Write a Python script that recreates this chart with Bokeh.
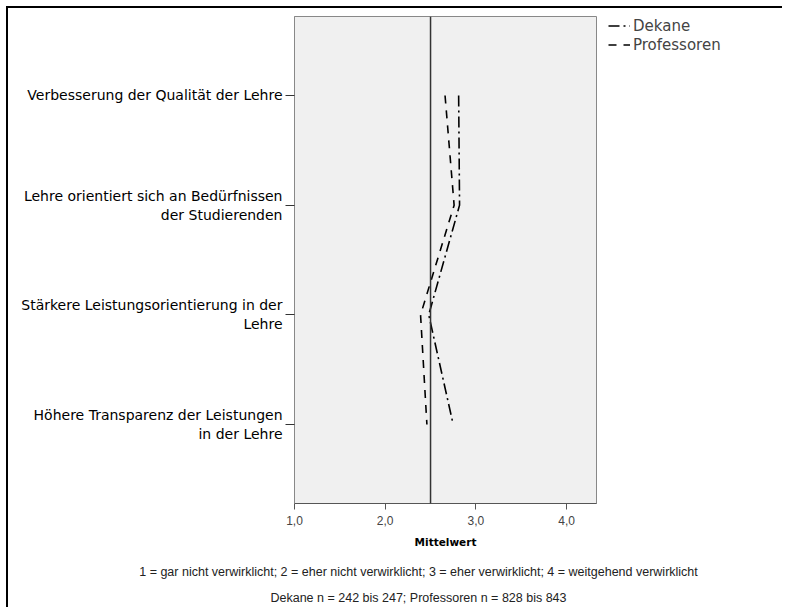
from bokeh.plotting import figure
from bokeh.layouts import column, row
from bokeh.models import (Range1d, FixedTicker, Span, Legend, LegendItem, ColumnDataSource)
from bokeh.core.properties import value
from bokeh.embed import file_html
from bokeh.resources import INLINE

categories = ["Verbesserung der Qualität der Lehre",
              "Lehre orientiert sich an Bedürfnissen\nder Studierenden",
              "Stärkere Leistungsorientierung in der\nLehre",
              "Höhere Transparenz der Leistungen\nin der Lehre"]
dekane = [2.81, 2.82, 2.48, 2.75]
professoren = [2.66, 2.76, 2.39, 2.46]
series_names = ["Dekane", "Professoren"]
x_ticks = [1, 2, 3, 4]
x_tick_labels = ["1,0", "2,0", "3,0", "4,0"]
reference_value = 2.5
footnotes = ["1 = gar nicht verwirklicht; 2 = eher nicht verwirklicht; 3 = eher verwirklicht; 4 = weitgehend verwirklicht",
             "Dekane n = 242 bis 247; Professoren n = 828 bis 843"]

ypos = list(range(1, len(categories) + 1))
FONT = "Liberation Sans"
LFONT = "DejaVu Sans"
DASH_D = "11 4 2 4"
DASH_P = "8 7"

p = figure(width=590, height=547, output_backend="svg", toolbar_location=None,
           x_range=Range1d(1.0, 4.33), y_range=Range1d(4.72, 0.28),
           min_border_left=286, min_border_right=2, min_border_top=6,
           min_border_bottom=52)
p.background_fill_color = "#f0f0f0"
p.border_fill_color = "white"
p.outline_line_color = "#888888"
p.outline_line_width = 1
p.grid.visible = False

p.xaxis.ticker = FixedTicker(ticks=x_ticks)
p.xaxis.major_label_overrides = {t: l for t, l in zip(x_ticks, x_tick_labels)}
p.xaxis.minor_tick_line_color = None
p.xaxis.major_tick_out = 6
p.xaxis.major_tick_in = 0
p.xaxis.axis_line_color = "#555555"
p.xaxis.major_tick_line_color = "#555555"
p.xaxis.major_label_text_font = FONT
p.xaxis.major_label_text_font_size = "12px"
p.xaxis.major_label_text_color = "#444444"
p.xaxis.major_label_standoff = 6
p.xaxis.axis_label = "Mittelwert"
p.xaxis.axis_label_text_font = LFONT
p.xaxis.axis_label_text_font_size = "10.5px"
p.xaxis.axis_label_text_font_style = "bold"
p.xaxis.axis_label_text_color = "black"
p.xaxis.axis_label_standoff = 8

p.yaxis.ticker = FixedTicker(ticks=ypos)
p.yaxis.major_label_overrides = {y: c for y, c in zip(ypos, categories)}
p.yaxis.minor_tick_line_color = None
p.yaxis.major_tick_out = 9
p.yaxis.major_tick_in = 0
p.yaxis.axis_line_color = "#888888"
p.yaxis.major_tick_line_color = "#333333"
p.yaxis.major_label_text_font = LFONT
p.yaxis.major_label_text_font_size = "14px"
p.yaxis.major_label_text_color = "black"
p.yaxis.major_label_standoff = 3

p.add_layout(Span(location=reference_value, dimension="height",
                  line_color="#333333", line_width=1.5))

p.line(dekane, ypos, line_color="black", line_width=1.6, line_dash=DASH_D)
p.line(professoren, ypos, line_color="black", line_width=1.6, line_dash=DASH_P)

# legend panel to the right of the plot area
lg = figure(width=184, height=547, output_backend="svg", toolbar_location=None,
            x_range=Range1d(0, 1), y_range=Range1d(0, 1),
            min_border_left=10, min_border_right=0, min_border_top=8,
            min_border_bottom=0)
lg.axis.visible = False
lg.grid.visible = False
lg.outline_line_color = None
lg.background_fill_color = "white"
lg.border_fill_color = "white"
# legend proxies: drawn outside the visible range, only their legend glyphs show
l1 = lg.line(x=[-5, -4], y=[-5, -4], line_color="black", line_width=1.6, line_dash=DASH_D)
l2 = lg.line(x=[-5, -4], y=[-5, -4], line_color="black", line_width=1.6, line_dash=DASH_P)
legend = Legend(items=[LegendItem(label=series_names[0], renderers=[l1]),
                       LegendItem(label=series_names[1], renderers=[l2])],
                location="top_left", padding=0, margin=0, spacing=0,
                label_text_font=LFONT, label_text_font_size="15px",
                label_height=19, glyph_height=19, glyph_width=22,
                label_standoff=3, border_line_color=None,
                background_fill_alpha=0)
lg.add_layout(legend)

# footnote panel
f = figure(width=774, height=52, output_backend="svg", toolbar_location=None,
           x_range=Range1d(0, 774), y_range=Range1d(52, 0),
           min_border=0, min_border_left=0, min_border_right=0,
           min_border_top=0, min_border_bottom=0)
f.axis.visible = False
f.grid.visible = False
f.outline_line_color = None
f.background_fill_color = "white"
f.border_fill_color = "white"
fsrc = ColumnDataSource(dict(x=[410, 410], y=[16, 42], text=footnotes))
f.text(x="x", y="y", text="text", source=fsrc, text_align="center",
       text_baseline="middle", text_font=value(FONT), text_font_size="12.5px",
       text_color="#222222")

layout = column(row(p, lg, spacing=0), f, spacing=0)
layout.styles = {"margin-left": "6px", "margin-top": "6px",
                 "border-left": "2px solid black", "border-top": "2px solid black"}
open("out.html", "w").write(file_html(layout, INLINE))
